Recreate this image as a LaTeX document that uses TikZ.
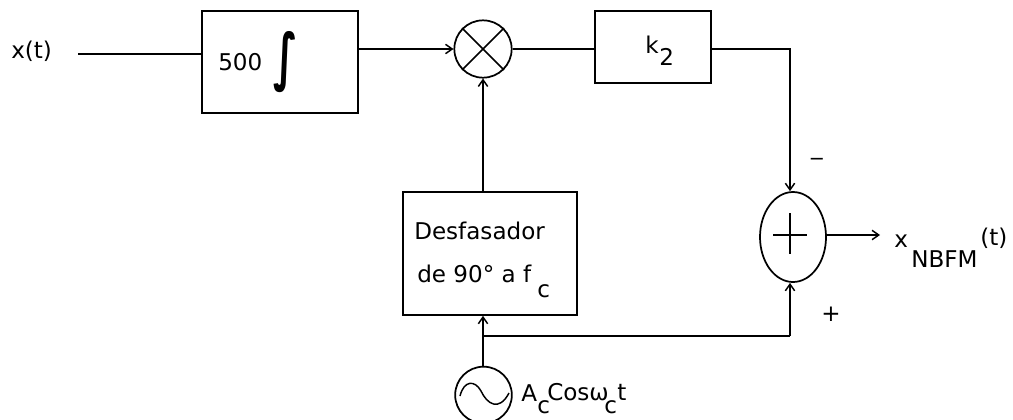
\documentclass[tikz,border=0pt]{standalone}
\usepackage{fontspec}
\setmainfont{DejaVu Sans}
\usetikzlibrary{arrows.meta,shapes.geometric}
\tikzset{
  blockbox/.style={draw,line width=1.5pt,inner sep=0pt},
  lab/.style={inner sep=0pt,anchor=base west,font=\fontsize{17.3}{20}\selectfont},
  sublab/.style={lab},
  wire/.style={line width=1.4pt},
  arr/.style={wire,-{Straight Barb[length=5pt,width=7pt,line width=1.1pt]}},
  sym/.style={line width=1.1pt}
}
\begin{document}
\begin{tikzpicture}[x=0.75pt,y=-0.75pt]
\useasboundingbox (0,0) rectangle (1013,419);
% blocks
\node[blockbox,minimum width=117pt,minimum height=76.5pt] (integ) at (280,62) {};
\node[blockbox,minimum width=87pt,minimum height=54pt] (k) at (653,47) {};
\node[blockbox,minimum width=130.5pt,minimum height=92pt] (desf) at (489.5,253.5) {};
% circles
\node[draw,circle,line width=1.3pt,minimum size=43pt,inner sep=0pt] (mix) at (483,49) {};
\draw[sym] (mix.north west) -- (mix.south east) (mix.north east) -- (mix.south west);
\node[draw,ellipse,line width=1.3pt,minimum width=49.5pt,minimum height=67.5pt,inner sep=0pt] (sum) at (793,237) {};
\draw[sym] (773,235) -- (807,235) (790,213) -- (790,254);
\node[draw,circle,line width=1.3pt,minimum size=42.5pt,inner sep=0pt] (osc) at (483.5,395) {};
\draw[sym] (460,396) .. controls (464,380) and (475,380) .. (481,391) .. controls (487,404) and (499,412) .. (509,393);
% coordinates
\coordinate (in) at (78,54);
\coordinate (integin) at (integ.west |- in);
\coordinate (kcorner) at (790,49);
\coordinate (jn) at (483,336);
\coordinate (jcorner) at (790,336);
\coordinate (out) at (880,235);
% connectors
\draw[wire] (in) -- (integin);
\draw[arr] (integ.east |- mix.west) -- (mix.west);
\draw[wire] (mix.east) -- (k.west |- mix.east);
\draw[arr] (k.east |- kcorner) -- (kcorner) -- (kcorner |- sum.north);
\draw[arr] (desf.north -| mix.south) -- (mix.south);
\draw[arr] (jn |- osc.north) -- (desf.south -| jn);
\draw[wire] (jn) -- (jcorner);
\draw[arr] (jcorner) -- (jcorner |- sum.south);
\draw[arr] (sum.east |- out) -- (out);
% labels
\node[lab] (t1) at (11,58) {x(t)};
\node[lab] (t2) at (218,70) {500};
\node[inner sep=0pt,font=\fontsize{30}{36}\selectfont\bfseries,yscale=1.56] (t3) at (286,62) {∫};
\node[lab] (t4) at (645,53) {k};
\node[sublab] (t5) at (659,65) {2};
\node[lab] (t6) at (414,239) {Desfasador};
\node[lab] (t7) at (417,282) {de 90° a f};
\node[sublab] (t8) at (537,297) {c};
\node[lab] (t9) at (521,401) {A};
\node[sublab] (t10) at (537,413) {c};
\node[lab] (t11) at (547,400) {Cos};
\node[lab] (t12) at (589,400) {ω};
\node[sublab] (t13) at (604,413) {c};
\node[lab] (t14) at (617,400) {t};
\node[lab] (t15) at (894,247) {x};
\node[sublab] (t16) at (911,267) {NBFM};
\node[lab] (t17) at (980,245) {(t)};
\node[lab,xscale=1.3] (t18) at (809,165) {–};
\node[lab] (t19) at (821,321) {+};
\end{tikzpicture}
\end{document}
